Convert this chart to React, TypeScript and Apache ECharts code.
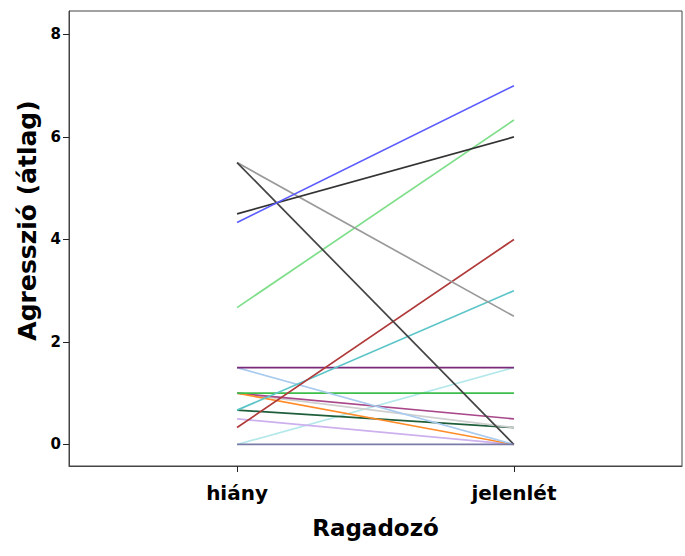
import React, { useEffect, useRef } from "react";
import * as echarts from "echarts";

const categories = ["hiány", "jelenlét"];
const yTicks = [0, 2, 4, 6, 8];
// value for each subject line at "hiány" and at "jelenlét"
const hianyValues = [0, 0.5, 0.67, 1.0, 1.0, 1.0, 1.0, 1.5, 1.5, 0.67, 0.33, 2.67, 5.5, 5.5, 4.5, 4.33, 0];
const jelenletValues = [1.5, 0, 0.33, 0.33, 0.5, 0, 1.0, 0, 1.5, 3.0, 4.0, 6.33, 2.5, 0, 6.0, 7.0, 0];
const lineColors = [
  "#b5e8ea", "#cdb0ee", "#1e5e3a", "#cfcfcf", "#a8488a", "#ff8c28", "#3cbf4a", "#a9cbef",
  "#7a2a78", "#5cc5c8", "#b03a3a", "#7ede8a", "#9a9a9a", "#444444", "#333333", "#5b5bff", "#7b7ba8",
];

const FONT = "DejaVu Sans";

export default function App() {
  const ref = useRef<HTMLDivElement>(null);
  useEffect(() => {
    if (!ref.current) return;
    const chart = echarts.init(ref.current, null, { renderer: "svg" });
    const series = hianyValues.map((v, i) => ({
      type: "line",
      data: [
        [0, v],
        [1, jelenletValues[i]],
      ],
      symbol: "none",
      lineStyle: { color: lineColors[i], width: 1.7 },
      silent: true,
    }));
    chart.setOption({
      animation: false,
      backgroundColor: "#ffffff",
      grid: {
        left: 69,
        right: 3,
        top: 11,
        bottom: 90,
        show: true,
        borderColor: "#444444",
        borderWidth: 1,
        backgroundColor: "transparent",
      },
      xAxis: {
        type: "value",
        min: -0.607,
        max: 1.607,
        name: "Ragadozó",
        nameLocation: "middle",
        nameGap: 50,
        nameTextStyle: { fontFamily: FONT, fontWeight: "bold", fontSize: 23, color: "#000" },
        splitLine: { show: false },
        axisLine: { show: true, onZero: false, lineStyle: { color: "#444444", width: 1 } },
        axisTick: { show: true, length: 6, customValues: [0, 1], lineStyle: { color: "#222" } },
        axisLabel: {
          customValues: [0, 1],
          formatter: (v: number) => categories[Math.round(v)] ?? "",
          fontFamily: FONT,
          fontWeight: "bold",
          fontSize: 20,
          color: "#000",
          margin: 17,
        },
      },
      yAxis: {
        type: "value",
        min: -0.42,
        max: 8.457,
        name: "Agresszió (átlag)",
        nameLocation: "middle",
        nameGap: 28,
        nameTextStyle: {
          fontFamily: FONT,
          fontWeight: "bold",
          fontSize: 25,
          color: "#000",
          padding: [0, 0, 0, 36],
        },
        splitLine: { show: false },
        axisLine: { show: true, onZero: false, lineStyle: { color: "#444444", width: 1 } },
        axisTick: { show: true, length: 6, customValues: yTicks, lineStyle: { color: "#222" } },
        axisLabel: {
          customValues: yTicks,
          fontFamily: FONT,
          fontWeight: "bold",
          fontSize: 15,
          color: "#000",
          margin: 8,
        },
      },
      series,
    });
    return () => chart.dispose();
  }, []);
  return <div ref={ref} style={{ width: 685, height: 556, position: "absolute", left: 0, top: 0 }} />;
}
